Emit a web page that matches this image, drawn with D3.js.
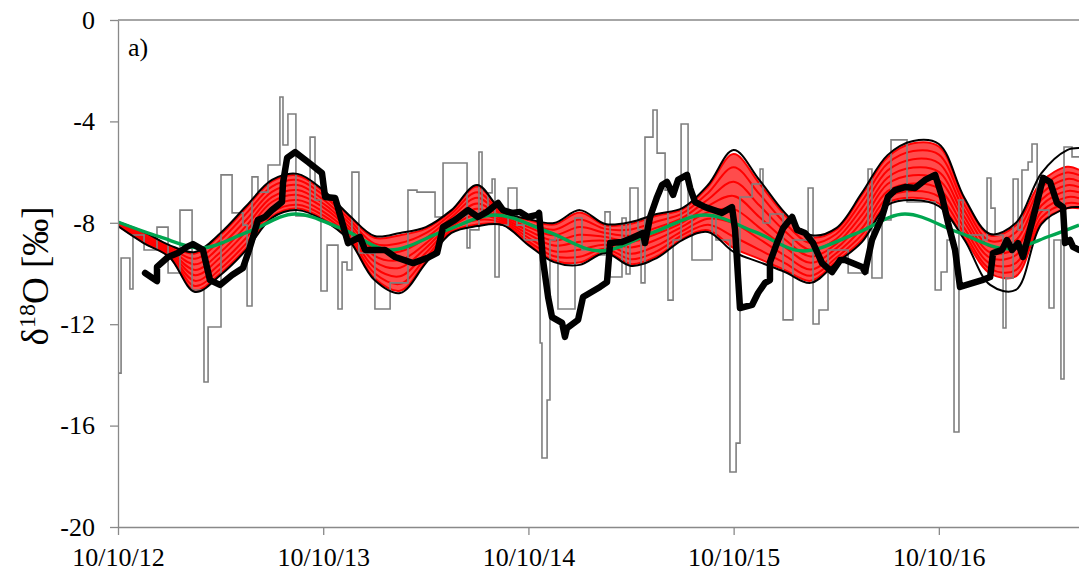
<!DOCTYPE html>
<meta charset="utf-8">
<style>
body { margin: 0; background: #fff; }
svg { display: block; font-family: "Liberation Serif", "Times New Roman", serif; }
.axis path, .axis line { stroke: #898989; stroke-width: 1.3; }
.axis text { font-size: 26px; fill: #000; font-family: "Liberation Serif", "Times New Roman", serif; }
</style>
<script src="https://d3js.org/d3.v7.min.js"></script>
<body>
<script>

// t = years since 10/10/12, values = d18O in permil
var xTicks = [0, 1, 2, 3, 4];
var xTickLabels = ["10/10/12", "10/10/13", "10/10/14", "10/10/15", "10/10/16"];
var yTicks = [0, -4, -8, -12, -16, -20];
var tEnd = 4.683;

// precipitation samples (step)
var precip = [
  [0.000,-13.93],[0.015,-9.39],[0.058,-10.61],[0.073,-8.48],[0.127,-9.07],[0.190,-8.17],
  [0.244,-9.98],[0.302,-7.50],[0.361,-10.65],[0.419,-14.28],[0.439,-12.11],[0.502,-6.11],
  [0.556,-7.61],[0.609,-8.09],[0.629,-11.28],[0.653,-6.19],[0.682,-6.79],[0.731,-5.72],
  [0.789,-3.04],[0.804,-4.93],[0.828,-3.71],[0.867,-7.73],[0.936,-4.62],[0.960,-7.10],
  [0.989,-10.69],[1.019,-8.88],[1.072,-11.40],[1.092,-9.55],[1.116,-9.86],[1.140,-6.00],
  [1.174,-9.19],[1.252,-11.40],[1.326,-10.37],[1.413,-6.71],[1.457,-6.79],[1.545,-7.77],
  [1.584,-5.64],[1.701,-8.99],[1.715,-8.28],[1.759,-5.21],[1.774,-7.69],[1.803,-6.82],
  [1.823,-6.27],[1.837,-10.14],[1.857,-8.09],[1.901,-6.63],[1.944,-8.09],[1.979,-8.68],
  [2.057,-12.74],[2.066,-17.28],[2.091,-14.99],[2.105,-8.68],[2.130,-8.48],[2.144,-11.40],
  [2.227,-7.81],[2.261,-9.07],[2.349,-9.27],[2.373,-7.57],[2.398,-10.14],[2.456,-7.81],
  [2.476,-10.02],[2.495,-6.63],[2.534,-8.28],[2.549,-10.37],[2.568,-4.62],[2.607,-3.55],
  [2.627,-5.25],[2.666,-6.71],[2.680,-11.05],[2.705,-8.68],[2.744,-4.10],[2.778,-7.69],
  [2.797,-9.47],[2.895,-7.77],[2.914,-8.68],[2.982,-17.83],[3.012,-16.69],[3.031,-6.98],
  [3.090,-6.47],[3.129,-5.88],[3.143,-8.01],[3.177,-7.65],[3.241,-11.83],[3.289,-8.68],
  [3.363,-6.63],[3.387,-11.99],[3.416,-11.44],[3.460,-9.07],[3.558,-9.98],[3.655,-5.88],
  [3.674,-10.18],[3.723,-7.89],[3.767,-4.73],[3.845,-7.18],[3.982,-10.65],[4.011,-9.94],
  [4.040,-8.68],[4.074,-16.25],[4.098,-7.10],[4.118,-8.48],[4.215,-8.68],[4.235,-6.23],
  [4.254,-7.42],[4.274,-8.48],[4.313,-12.15],[4.327,-10.18],[4.362,-6.27],[4.386,-8.28],
  [4.405,-5.92],[4.435,-5.60],[4.454,-4.89],[4.479,-7.50],[4.537,-11.36],[4.561,-8.68],
  [4.595,-14.16],[4.610,-5.01],[4.649,-5.40],[4.683,-5.40]
];

// seasonal fit (green)
var seasonal = [
  [0.000,-7.97],[0.205,-8.56],[0.400,-8.99],[0.634,-8.36],[0.863,-7.65],[1.092,-8.24],
  [1.326,-9.07],[1.579,-8.36],[1.837,-7.69],[2.096,-8.36],[2.349,-9.11],[2.602,-8.40],
  [2.861,-7.69],[3.104,-8.36],[3.338,-9.11],[3.592,-8.44],[3.835,-7.65],[4.089,-8.36],
  [4.337,-9.03],[4.542,-8.52],[4.683,-8.09]
];

// knots shared by the ensemble runs and their envelope
var knotT = [0,0.125,0.25,0.375,0.5,0.625,0.75,0.875,1,1.125,1.25,1.375,1.5,1.625,1.75,1.875,
  2,2.125,2.25,2.375,2.5,2.625,2.75,2.875,3,3.125,3.25,3.375,3.5,3.625,3.75,3.875,4,4.125,
  4.25,4.375,4.5,4.625,4.683];

var envUpper = [-7.97,-8.36,-8.88,-9.15,-8.40,-7.34,-6.31,-6.07,-6.71,-7.69,-8.52,-8.40,-8.17,
  -7.50,-6.51,-7.57,-7.85,-8.01,-7.50,-8.05,-7.97,-7.65,-7.42,-6.51,-5.13,-6.31,-7.61,-8.48,
  -8.21,-6.82,-5.33,-4.77,-4.89,-7.02,-8.44,-8.01,-6.04,-5.13,-5.05];
var envLower = [-8.13,-8.80,-9.35,-10.73,-10.06,-9.07,-7.81,-7.50,-7.89,-8.68,-10.26,-10.77,-9.59,
  -8.40,-8.13,-8.09,-8.88,-9.55,-9.66,-9.19,-9.70,-9.39,-8.68,-8.36,-9.15,-9.55,-9.94,-10.37,
  -9.59,-8.76,-7.30,-7.10,-7.34,-8.68,-10.45,-10.65,-8.05,-7.42,-7.38];

// model runs (red)
var run1 = [-7.98,-8.38,-8.90,-9.21,-8.47,-7.41,-6.37,-6.13,-6.76,-7.73,-8.59,-8.49,-8.23,-7.54,-6.57,-7.59,-7.89,-8.07,-7.59,-8.10,-8.04,-7.72,-7.47,-6.58,-5.29,-6.44,-7.70,-8.56,-8.27,-6.90,-5.41,-4.86,-4.99,-7.09,-8.50,-8.10,-6.38,-5.79,-5.91];
var run2 = [-8.00,-8.43,-8.96,-9.42,-8.68,-7.63,-6.57,-6.31,-6.91,-7.86,-8.82,-8.80,-8.41,-7.65,-6.79,-7.66,-8.03,-8.27,-7.87,-8.24,-8.26,-7.95,-7.63,-6.82,-5.81,-6.86,-8.01,-8.80,-8.44,-7.15,-5.66,-5.17,-5.31,-7.30,-8.72,-8.38,-6.61,-6.02,-6.12];
var run3 = [-8.02,-8.50,-9.03,-9.64,-8.91,-7.88,-6.78,-6.51,-7.08,-8.00,-9.06,-9.13,-8.61,-7.78,-7.01,-7.73,-8.17,-8.49,-8.17,-8.40,-8.51,-8.19,-7.81,-7.08,-6.38,-7.31,-8.33,-9.07,-8.64,-7.42,-5.94,-5.49,-5.65,-7.53,-8.94,-8.69,-6.85,-6.27,-6.36];
var run4 = [-8.04,-8.56,-9.09,-9.86,-9.15,-8.12,-6.99,-6.71,-7.24,-8.14,-9.30,-9.47,-8.81,-7.91,-7.24,-7.80,-8.31,-8.70,-8.47,-8.56,-8.75,-8.43,-7.99,-7.34,-6.94,-7.77,-8.66,-9.33,-8.83,-7.69,-6.22,-5.82,-5.99,-7.77,-9.17,-9.00,-7.09,-6.52,-6.59];
var run5 = [-8.06,-8.62,-9.15,-10.07,-9.36,-8.34,-7.18,-6.90,-7.39,-8.26,-9.53,-9.77,-8.99,-8.02,-7.45,-7.87,-8.45,-8.90,-8.75,-8.71,-8.97,-8.66,-8.15,-7.58,-7.46,-8.19,-8.96,-9.58,-9.01,-7.95,-6.47,-6.12,-6.31,-7.98,-9.38,-9.28,-7.32,-6.75,-6.80];
var run6 = [-8.09,-8.68,-9.22,-10.29,-9.60,-8.59,-7.39,-7.10,-7.56,-8.40,-9.77,-10.11,-9.19,-8.15,-7.68,-7.94,-8.59,-9.12,-9.06,-8.87,-9.22,-8.90,-8.33,-7.84,-8.02,-8.64,-9.29,-9.84,-9.20,-8.22,-6.75,-6.45,-6.65,-8.22,-9.61,-9.59,-7.56,-6.99,-7.03];
var run7 = [-8.11,-8.73,-9.28,-10.49,-9.81,-8.81,-7.59,-7.29,-7.71,-8.53,-9.99,-10.41,-9.38,-8.27,-7.89,-8.01,-8.73,-9.32,-9.34,-9.02,-9.44,-9.13,-8.49,-8.08,-8.55,-9.06,-9.59,-10.09,-9.38,-8.47,-7.00,-6.75,-6.97,-8.43,-9.82,-9.87,-7.79,-7.23,-7.25];
var run8 = [-8.12,-8.78,-9.33,-10.67,-9.99,-9.00,-7.75,-7.44,-7.84,-8.64,-10.19,-10.68,-9.53,-8.36,-8.07,-8.07,-8.84,-9.49,-9.57,-9.14,-9.63,-9.32,-8.63,-8.29,-9.00,-9.42,-9.87,-10.29,-9.53,-8.68,-7.22,-7.01,-7.24,-8.61,-10.00,-10.11,-7.98,-7.43,-7.43];
var runs = [run1, run2, run3, run4, run5, run6, run7, run8];

// observed (thick black)
var observed = [
  [0.132,-9.98],[0.190,-10.30],[0.190,-9.74],[0.244,-9.35],[0.292,-9.19],[0.336,-8.95],
  [0.365,-8.84],[0.414,-9.07],[0.448,-10.26],[0.497,-10.45],[0.556,-10.06],[0.609,-9.78],
  [0.634,-9.19],[0.658,-8.56],[0.682,-7.89],[0.716,-7.77],[0.750,-7.50],[0.799,-7.18],
  [0.804,-6.43],[0.824,-5.44],[0.863,-5.21],[0.926,-5.60],[0.994,-6.04],[1.009,-6.98],
  [1.058,-7.02],[1.092,-7.97],[1.121,-8.80],[1.179,-8.56],[1.204,-9.07],[1.252,-9.07],
  [1.301,-9.07],[1.350,-9.35],[1.438,-9.59],[1.506,-9.39],[1.555,-9.19],[1.584,-8.17],
  [1.642,-7.89],[1.706,-7.50],[1.754,-7.77],[1.798,-7.57],[1.852,-7.22],[1.876,-7.50],
  [1.920,-7.61],[1.959,-7.57],[1.998,-7.77],[2.042,-7.69],[2.052,-7.61],[2.071,-9.47],
  [2.096,-10.93],[2.115,-11.72],[2.164,-11.95],[2.178,-12.50],[2.188,-12.15],[2.242,-11.83],
  [2.266,-10.93],[2.349,-10.53],[2.383,-10.34],[2.398,-8.80],[2.456,-8.76],[2.505,-8.60],
  [2.558,-8.40],[2.568,-8.80],[2.593,-7.77],[2.627,-6.98],[2.651,-6.51],[2.675,-6.39],
  [2.705,-6.90],[2.729,-6.31],[2.773,-6.11],[2.788,-6.63],[2.812,-7.18],[2.861,-7.38],
  [2.943,-7.61],[2.992,-7.38],[3.007,-8.28],[3.031,-11.36],[3.090,-11.24],[3.119,-10.77],
  [3.153,-10.37],[3.177,-10.26],[3.177,-9.55],[3.211,-8.80],[3.241,-8.21],[3.285,-7.77],
  [3.309,-8.28],[3.348,-8.40],[3.387,-8.80],[3.431,-9.59],[3.480,-9.94],[3.519,-9.47],
  [3.543,-9.47],[3.626,-9.74],[3.640,-9.94],[3.674,-8.68],[3.723,-7.77],[3.752,-6.98],
  [3.787,-6.71],[3.835,-6.59],[3.884,-6.63],[3.933,-6.31],[3.982,-6.11],[4.016,-6.98],
  [4.045,-8.01],[4.079,-9.07],[4.103,-10.53],[4.211,-10.26],[4.250,-10.14],[4.264,-9.19],
  [4.308,-9.07],[4.332,-8.68],[4.357,-9.07],[4.386,-8.80],[4.410,-9.35],[4.435,-8.56],
  [4.469,-7.50],[4.508,-6.23],[4.542,-6.39],[4.576,-7.22],[4.605,-7.38],[4.615,-8.80],
  [4.639,-8.68],[4.654,-8.95],[4.683,-9.07]
];

var svg = d3.select('body').append('svg')
    .attr('width', 1079)
    .attr('height', 574);

var x = d3.scaleLinear().domain([0, tEnd]).range([118, 1079]);
var y = d3.scaleLinear().domain([-20, 0]).range([527, 20]);

svg.append("clipPath").attr("id", "plot")
  .append("rect")
    .attr("x", x(0)).attr("y", y(0))
    .attr("width", x(tEnd) - x(0))
    .attr("height", y(-20) - y(0));

var plot = svg.append("g").attr("clip-path", "url(#plot)");

var knotLine = d3.line()
    .x(function(d, i) { return x(knotT[i]); })
    .y(function(d) { return y(d); })
    .curve(d3.curveCatmullRom.alpha(0.5));

// spread of the red runs, shaded
plot.append("path")
    .datum(knotT)
    .attr("d", d3.area()
      .x(function(d) { return x(d); })
      .y0(function(d, i) { return y(run1[i]); })
      .y1(function(d, i) { return y(run8[i]); })
      .curve(d3.curveCatmullRom.alpha(0.5)))
    .attr("fill", "#ff0000")
    .attr("fill-opacity", 0.7);

// red ensemble
plot.append("g").selectAll("path")
    .data(runs)
  .enter().append("path")
    .attr("d", knotLine)
    .attr("fill", "none")
    .attr("stroke", "#ff0000")
    .attr("stroke-width", 2);

// precipitation steps
plot.append("path")
    .datum(precip)
    .attr("d", d3.line()
      .x(function(d) { return x(d[0]); })
      .y(function(d) { return y(d[1]); })
      .curve(d3.curveStepAfter))
    .attr("fill", "none")
    .attr("stroke", "#7f7f7f")
    .attr("stroke-width", 1.6);

// envelope
plot.append("g").selectAll("path")
    .data([envUpper, envLower])
  .enter().append("path")
    .attr("d", knotLine)
    .attr("fill", "none")
    .attr("stroke", "#000")
    .attr("stroke-width", 2);

plot.append("path")
    .datum(seasonal)
    .attr("d", d3.line()
      .x(function(d) { return x(d[0]); })
      .y(function(d) { return y(d[1]); })
      .curve(d3.curveMonotoneX))
    .attr("fill", "none")
    .attr("stroke", "#00a650")
    .attr("stroke-width", 3.4);

plot.append("path")
    .datum(observed)
    .attr("d", d3.line()
      .x(function(d) { return x(d[0]); })
      .y(function(d) { return y(d[1]); }))
    .attr("fill", "none")
    .attr("stroke", "#000")
    .attr("stroke-width", 6.5)
    .attr("stroke-linejoin", "round")
    .attr("stroke-linecap", "round");

// axes
svg.append("g")
    .attr("class", "axis")
    .attr("transform", "translate(" + x(0) + ",0)")
    .call(d3.axisLeft(y).tickValues(yTicks).tickSize(8).tickSizeOuter(0).tickPadding(15)
      .tickFormat(function(d) { return String(d); }))
    .attr("font-family", "Liberation Serif, serif")
    .attr("font-size", 26);

svg.append("g")
    .attr("class", "axis")
    .attr("transform", "translate(0," + y(-20) + ")")
    .call(d3.axisBottom(x).tickValues(xTicks).tickSize(8).tickSizeOuter(0).tickPadding(13)
      .tickFormat(function(d, i) { return xTickLabels[i]; }))
    .attr("font-family", "Liberation Serif, serif")
    .attr("font-size", 26);

svg.append("line")
    .attr("x1", x(0)).attr("x2", x(tEnd))
    .attr("y1", y(0)).attr("y2", y(0))
    .attr("stroke", "#898989")
    .attr("stroke-width", 1.3);

svg.append("text")
    .attr("x", 128).attr("y", 56)
    .style("font-size", "26px")
    .text("a)");

var ylab = svg.append("text")
    .attr("transform", "translate(48,276) rotate(-90)")
    .attr("text-anchor", "middle")
    .style("font-size", "37px");
ylab.append("tspan").text("δ");
ylab.append("tspan").attr("dy", "-13").style("font-size", "24px").text("18");
ylab.append("tspan").attr("dy", "13").text("O [‰]");

</script>
</body>
